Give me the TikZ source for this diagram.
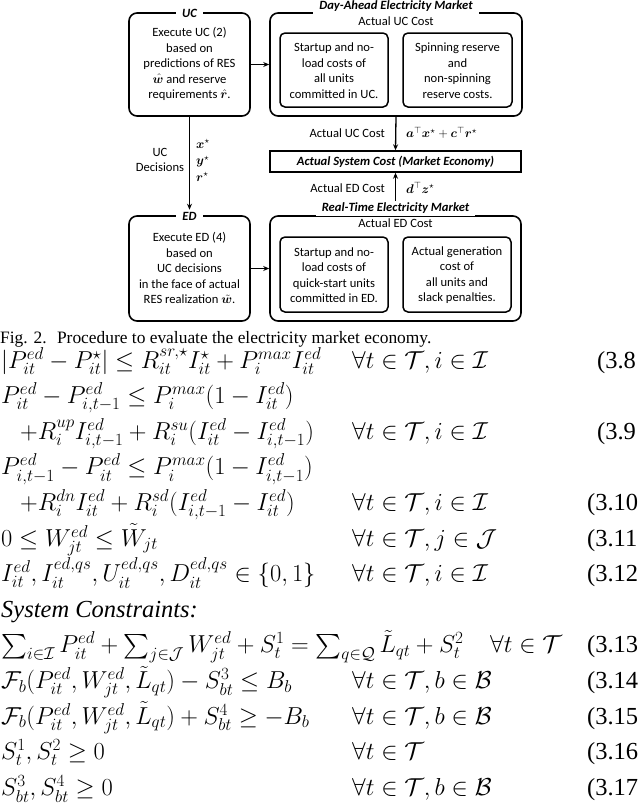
\RequirePackage{fix-cm}
\documentclass[tikz,border=0pt]{standalone}
\usepackage{amsmath,amssymb}
\usepackage{bm}
\usepackage[no-math]{fontspec}
\setmainfont{Liberation Serif}
\newfontfamily\diag{Carlito}
\usetikzlibrary{arrows.meta}
\tikzset{
 box/.style={draw, line width=1.6pt, rounded corners=8pt, inner sep=0pt},
 inbox/.style={draw, line width=1.5pt, rounded corners=5pt, inner sep=0pt},
 sqbox/.style={draw, line width=1.5pt, inner sep=0pt},
 dtext/.style={font=\diag\fontsize{12.6}{15.5}\selectfont, align=center, inner sep=0pt},
 ttl/.style={font=\diag\bfseries\itshape\fontsize{12.6}{15.5}\selectfont, fill=white, inner xsep=6pt, inner ysep=2pt},
 arr/.style={line width=1.3pt, -{Stealth[length=6pt,width=5pt]}},
 eq/.style={anchor=base west, inner sep=0pt, font=\fontsize{24.5}{28}\selectfont},
 figcap/.style={anchor=base west, inner sep=0pt, font=\fontsize{17.4}{20}\selectfont},
}
\begin{document}
\begin{tikzpicture}[x=1pt,y=-1pt]
\useasboundingbox (0,0) rectangle (640,804);
% ---- boxes
\node[box, minimum width=121pt, minimum height=103pt] (uc) at (189.5,64.5) {};
\node[box, minimum width=252pt, minimum height=103pt] (da) at (396,64.5) {};
\node[inbox, minimum width=108pt, minimum height=74pt] (da1) at (334,70) {};
\node[inbox, minimum width=109pt, minimum height=74pt] (da2) at (457.5,70) {};
\node[sqbox, minimum width=251pt, minimum height=21pt] (sys) at (395.5,161.5) {};
\node[box, minimum width=121pt, minimum height=105pt] (ed) at (189.5,268.5) {};
\node[box, minimum width=251pt, minimum height=105pt] (rt) at (395.5,268.5) {};
\node[inbox, minimum width=108pt, minimum height=75pt] (rt1) at (334,274.5) {};
\node[inbox, minimum width=108pt, minimum height=75pt] (rt2) at (457,274.5) {};
% ---- titles
\node[ttl] (uct) at (189.5,13) {UC};
\node[ttl] (dat) at (396,6.5) {Day-Ahead Electricity Market};
\node[ttl] (edt) at (189.5,216) {ED};
\node[ttl] (rtt) at (395.5,208.5) {Real-Time Electricity Market};
% ---- texts
\node[dtext] (uctx) at (189.5,64) {Execute UC (2)\\based on\\predictions of RES\\$\hat{\bm{w}}$ and reserve\\requirements $\hat{\bm{r}}$.};
\node[dtext] (dacost) at (396,21) {Actual UC Cost};
\node[dtext] (da1t) at (334,70.5) {Startup and no-\\load costs of\\all units\\committed in UC.};
\node[dtext] (da2t) at (457.5,70.5) {Spinning reserve\\and\\non-spinning\\reserve costs.};
\node[dtext, font=\diag\bfseries\itshape\fontsize{12.6}{15.5}\selectfont] (syst) at (395.5,161.5) {Actual System Cost (Market Economy)};
\node[dtext] (edtx) at (189.5,268) {Execute ED (4)\\based on\\UC decisions\\in the face of actual\\RES realization $\tilde{\bm{w}}$.};
\node[dtext] (rtcost) at (395.5,223) {Actual ED Cost};
\node[dtext] (rt1t) at (334,275) {Startup and no-\\load costs of\\quick-start units\\committed in ED.};
\node[dtext] (rt2t) at (457,275) {Actual generation\\cost of\\all units and\\slack penalties.};
% ---- arrows
\draw[arr] (uc.east) -- (da.west);
\draw[arr] (uc.south) -- (edt.north);
\draw[arr] (da.south) -- (sys.north);
\draw[arr] (rtt.north) -- (sys.south);
\draw[arr] (ed.east) -- (rt.west);
% ---- arrow labels
\node[dtext] (ucdec) at (160,160) {UC\\Decisions};
\node[dtext, align=left, anchor=west, font=\diag\fontsize{12.6}{16.5}\selectfont] (xyr) at (196,160.5) {$\bm{x}^{\star}$\\$\bm{y}^{\star}$\\$\bm{r}^{\star}$};
\node[dtext, anchor=east] (ucl) at (385,133) {Actual UC Cost};
\node[dtext, anchor=west] (ucf) at (406,133) {$\bm{a}^{\top}\bm{x}^{\star}+\bm{c}^{\top}\bm{r}^{\star}$};
\node[dtext, anchor=east] (edl) at (385,188) {Actual ED Cost};
\node[dtext, anchor=west] (edf) at (406,188) {$\bm{d}^{\top}\bm{z}^{\star}$};
% ---- caption
\node[figcap] (figc) at (0,343) {Fig. 2.\hspace{0.6em}Procedure to evaluate the electricity market economy.};
% ---- equations
\node[eq] (e1) at (1,368) {$|P^{ed}_{it}-P^{\star}_{it}|\le R^{sr,\star}_{it}I^{\star}_{it}+P^{max}_{i}I^{ed}_{it}$};
\node[eq] (f1) at (352,368) {$\forall t\in\mathcal{T},i\in\mathcal{I}$};
\node[eq] (n1) at (597,368) {(3.8};
\node[eq] (e2) at (1,403.6) {$P^{ed}_{it}-P^{ed}_{i,t-1}\le P^{max}_{i}(1-I^{ed}_{it})$};
\node[eq] (e3) at (20,439.2) {$+R^{up}_{i}I^{ed}_{i,t-1}+R^{su}_{i}(I^{ed}_{it}-I^{ed}_{i,t-1})$};
\node[eq] (f3) at (352,439.2) {$\forall t\in\mathcal{T},i\in\mathcal{I}$};
\node[eq] (n3) at (597,439.2) {(3.9};
\node[eq] (e4) at (1,474.8) {$P^{ed}_{i,t-1}-P^{ed}_{it}\le P^{max}_{i}(1-I^{ed}_{i,t-1})$};
\node[eq] (e5) at (20,510.4) {$+R^{dn}_{i}I^{ed}_{it}+R^{sd}_{i}(I^{ed}_{i,t-1}-I^{ed}_{it})$};
\node[eq] (f5) at (352,510.4) {$\forall t\in\mathcal{T},i\in\mathcal{I}$};
\node[eq] (n5) at (587,510.4) {(3.10};
\node[eq] (e6) at (1,546) {$0\le W^{ed}_{jt}\le\tilde{W}_{jt}$};
\node[eq] (f6) at (352,546) {$\forall t\in\mathcal{T},j\in\mathcal{J}$};
\node[eq] (n6) at (587,546) {(3.11};
\node[eq] (e7) at (1,581.6) {$I^{ed}_{it},I^{ed,qs}_{it},U^{ed,qs}_{it},D^{ed,qs}_{it}\in\{0,1\}$};
\node[eq] (f7) at (352,581.6) {$\forall t\in\mathcal{T},i\in\mathcal{I}$};
\node[eq] (n7) at (587,581.6) {(3.12};
\node[eq] (sc) at (1,617.2) {\textit{System Constraints:}};
\node[eq] (e8) at (1,652.8) {$\sum_{i\in\mathcal{I}}P^{ed}_{it}+\sum_{j\in\mathcal{J}}W^{ed}_{jt}+S^{1}_{t}=\sum_{q\in\mathcal{Q}}\tilde{L}_{qt}+S^{2}_{t}$};
\node[eq] (f8) at (490,652.8) {$\forall t\in\mathcal{T}$};
\node[eq] (n8) at (587,652.8) {(3.13};
\node[eq] (e9) at (1,688.4) {$\mathcal{F}_{b}(P^{ed}_{it},W^{ed}_{jt},\tilde{L}_{qt})-S^{3}_{bt}\le B_{b}$};
\node[eq] (f9) at (352,688.4) {$\forall t\in\mathcal{T},b\in\mathcal{B}$};
\node[eq] (n9) at (587,688.4) {(3.14};
\node[eq] (e10) at (1,724) {$\mathcal{F}_{b}(P^{ed}_{it},W^{ed}_{jt},\tilde{L}_{qt})+S^{4}_{bt}\ge -B_{b}$};
\node[eq] (f10) at (352,724) {$\forall t\in\mathcal{T},b\in\mathcal{B}$};
\node[eq] (n10) at (587,724) {(3.15};
\node[eq] (e11) at (1,759.6) {$S^{1}_{t},S^{2}_{t}\ge 0$};
\node[eq] (f11) at (352,759.6) {$\forall t\in\mathcal{T}$};
\node[eq] (n11) at (587,759.6) {(3.16};
\node[eq] (e12) at (1,795.2) {$S^{3}_{bt},S^{4}_{bt}\ge 0$};
\node[eq] (f12) at (352,795.2) {$\forall t\in\mathcal{T},b\in\mathcal{B}$};
\node[eq] (n12) at (587,795.2) {(3.17};
\end{tikzpicture}
\end{document}
